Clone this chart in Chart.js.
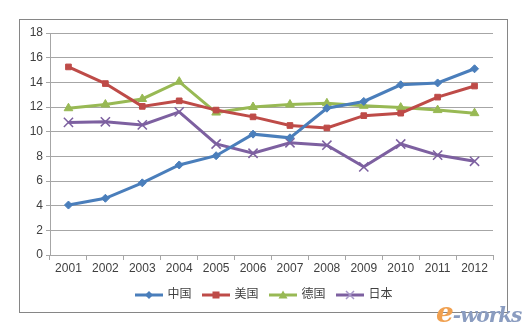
<!DOCTYPE html>
<html>
<head>
<meta charset="utf-8">
<script src="https://cdn.jsdelivr.net/npm/chart.js@4"></script>
<style>
  html, body { margin: 0; padding: 0; background: #fff; }
  #wrap { position: relative; width: 524px; height: 327px; }
  #frame { position: absolute; left: 19px; top: 19px; width: 487px; height: 292px; border: 1px solid #868686; }
  canvas { position: absolute; left: 0; top: 0; }
  #mark { position: absolute; left: 436px; top: 296px; font: italic bold 20px "DejaVu Serif", serif; color: #8a9cc0; letter-spacing: -1px; }
  #mark span { color: #f0a050; font-size: 28px; }
</style>
</head>
<body>
<div id="wrap">
  <div id="frame"></div>
  <canvas id="chart" width="524" height="327"></canvas>
  <div id="mark"><span>e</span>-works</div>
</div>
<script>
// values
const years = ['2001', '2002', '2003', '2004', '2005', '2006', '2007', '2008', '2009', '2010', '2011', '2012'];
const china = [4.05, 4.6, 5.85, 7.3, 8.05, 9.8, 9.5, 11.9, 12.45, 13.8, 13.95, 15.1];
const usa = [15.25, 13.9, 12.05, 12.5, 11.75, 11.2, 10.5, 10.3, 11.3, 11.5, 12.8, 13.7];
const germany = [11.9, 12.2, 12.65, 14.05, 11.55, 12.0, 12.2, 12.3, 12.1, 11.95, 11.75, 11.5];
const japan = [10.75, 10.8, 10.55, 11.6, 9.0, 8.25, 9.1, 8.9, 7.15, 9.0, 8.1, 7.6];

const FONT = '"Liberation Sans", "Noto Sans CJK SC", sans-serif';
const textColor = '#404040';
const gridColor = '#a6a6a6';

// legend icon: short line with the series marker on it
function legendIcon(color, style) {
  const c = document.createElement('canvas');
  c.width = 28; c.height = 12;
  const g = c.getContext('2d');
  g.strokeStyle = color;
  g.fillStyle = color;
  g.lineWidth = 3;
  g.beginPath(); g.moveTo(0, 6); g.lineTo(28, 6); g.stroke();
  g.lineWidth = 1.5;
  if (style === 'rectRot') {
    g.beginPath(); g.moveTo(14, 2); g.lineTo(18, 6); g.lineTo(14, 10); g.lineTo(10, 6); g.closePath(); g.fill();
  } else if (style === 'rect') {
    g.fillRect(10.5, 2.5, 7, 7);
  } else if (style === 'triangle') {
    g.beginPath(); g.moveTo(14, 1.5); g.lineTo(18.5, 9.5); g.lineTo(9.5, 9.5); g.closePath(); g.fill();
  } else {
    g.strokeStyle = '#a898c8';
    g.beginPath(); g.moveTo(10, 2); g.lineTo(18, 10); g.moveTo(18, 2); g.lineTo(10, 10); g.stroke();
  }
  return c;
}

function series(label, data, color, style, radius, bw) {
  return {
    label: label,
    data: data,
    borderColor: color,
    backgroundColor: color,
    borderWidth: 3,
    tension: 0,
    pointStyle: style,
    pointRadius: radius,
    pointHoverRadius: radius,
    pointBorderWidth: bw,
    pointBackgroundColor: color,
    pointBorderColor: color,
    legendIcon: legendIcon(color, style)
  };
}

// nudge the legend right so it sits under the middle of the frame
const legendShift = {
  id: 'legendShift',
  afterLayout(chart) {
    chart.legend.left += 18;
    chart.legend.right += 18;
  }
};

new Chart(document.getElementById('chart').getContext('2d'), {
  type: 'line',
  data: {
    labels: years,
    datasets: [
      series('中国', china, '#4a7ebb', 'rectRot', 4, 1),
      series('美国', usa, '#be4b48', 'rect', 4, 1),
      series('德国', germany, '#98b954', 'triangle', 5, 1),
      series('日本', japan, '#7d60a0', 'crossRot', 6.5, 1.5)
    ]
  },
  plugins: [legendShift],
  options: {
    responsive: false,
    animation: false,
    layout: { padding: { left: 0, top: 33, right: 31, bottom: 16 } },
    plugins: {
      tooltip: { enabled: false },
      legend: {
        position: 'bottom',
        labels: {
          color: textColor,
          font: { family: FONT, size: 12 },
          usePointStyle: true,
          pointStyleWidth: 25,
          padding: 12,
          generateLabels(chart) {
            return chart.data.datasets.map((ds, i) => ({
              text: ds.label,
              pointStyle: ds.legendIcon,
              fillStyle: ds.borderColor,
              strokeStyle: ds.borderColor,
              lineWidth: 0,
              fontColor: textColor,
              datasetIndex: i,
              hidden: false
            }));
          }
        }
      }
    },
    scales: {
      x: {
        offset: true,
        afterFit(scale) { scale.height = 22; },
        grid: { offset: true, drawOnChartArea: false, drawTicks: true, tickLength: 5, color: gridColor },
        border: { color: gridColor },
        ticks: { color: textColor, padding: 1, maxRotation: 0, font: { family: FONT, size: 12 } }
      },
      y: {
        min: 0,
        max: 18,
        afterFit(scale) { scale.width = 50; },
        grid: { color: gridColor, tickLength: 4 },
        border: { color: gridColor },
        ticks: { stepSize: 2, color: textColor, padding: 3, font: { family: FONT, size: 12 } }
      }
    }
  }
});
</script>
</body>
</html>
